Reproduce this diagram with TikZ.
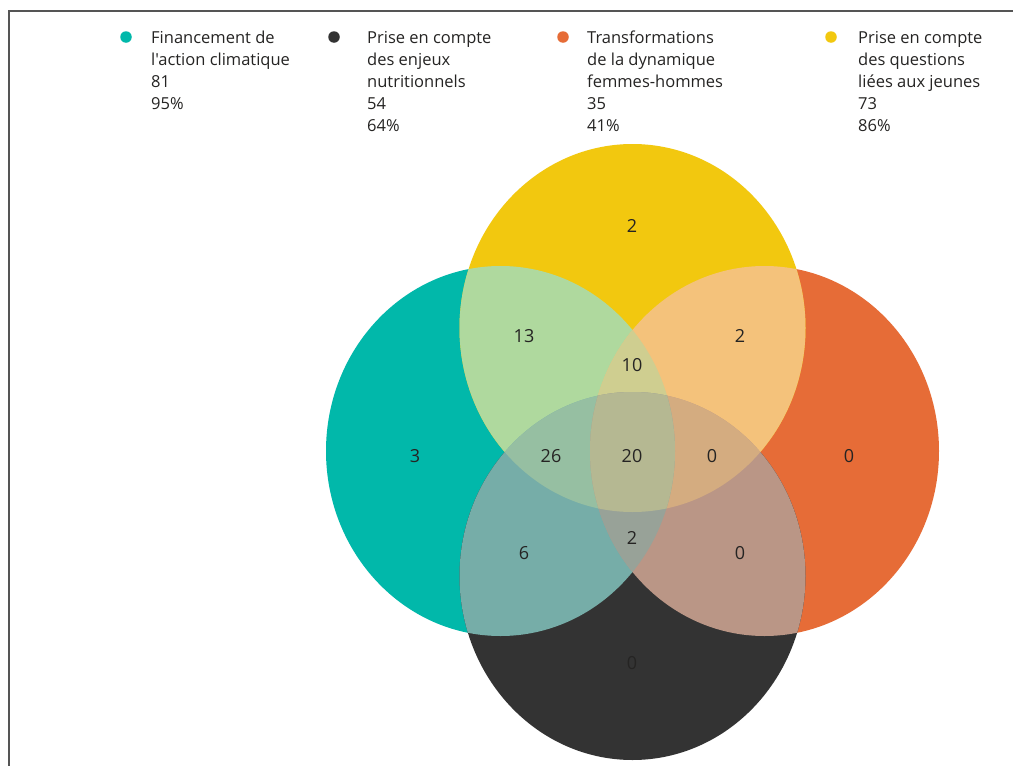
\documentclass[tikz,border=0pt]{standalone}
\usepackage{fontspec}
\setmainfont{Open Sans}[Ligatures=TeXOff]
\usetikzlibrary{positioning}
\definecolor{VTeal}{RGB}{1,184,170}
\definecolor{VBlack}{RGB}{51,51,51}
\definecolor{VOrange}{RGB}{230,108,55}
\definecolor{VYellow}{RGB}{242,200,15}
\definecolor{PairTY}{RGB}{175,217,158}
\definecolor{PairYO}{RGB}{244,194,123}
\definecolor{PairTB}{RGB}{118,173,168}
\definecolor{PairOB}{RGB}{186,150,134}
\definecolor{TripTYO}{RGB}{207,206,144}
\definecolor{TripTYB}{RGB}{150,191,162}
\definecolor{TripYOB}{RGB}{212,172,128}
\definecolor{TripTOB}{RGB}{152,162,152}
\definecolor{QuadAll}{RGB}{181,184,146}
\definecolor{LabelInk}{RGB}{37,36,35}
\definecolor{FrameGray}{RGB}{85,85,85}
\newcommand{\vennT}{(500.5,451) ellipse [x radius=174.5pt, y radius=185pt]}
\newcommand{\vennO}{(764.5,451) ellipse [x radius=174.5pt, y radius=185pt]}
\newcommand{\vennY}{(632.5,328) ellipse [x radius=173pt, y radius=184pt]}
\newcommand{\vennB}{(632.5,576) ellipse [x radius=173pt, y radius=184pt]}

\begin{document}
\begin{tikzpicture}[
  x=1pt, y=-1pt,
  legdot/.style={circle, inner sep=0pt, minimum size=11.5pt},
  legtext/.style={anchor=north west, inner sep=0pt, align=left, text=LabelInk, font=\fontsize{16.5}{22}\selectfont},
  count/.style={text=LabelInk, font=\fontsize{18}{20}\selectfont}
]
\useasboundingbox (0,0) rectangle (1013,766);
\fill[white] (0,0) rectangle (1013,766);
\draw[line width=2pt, FrameGray] (9,767) |- (1014,10.5);

\fill[VTeal] \vennT;
\fill[VOrange] \vennO;
\fill[VYellow] \vennY;
\fill[VBlack] \vennB;

\begin{scope} \clip \vennT; \fill[PairTY] \vennY; \end{scope}
\begin{scope} \clip \vennY; \fill[PairYO] \vennO; \end{scope}
\begin{scope} \clip \vennT; \fill[PairTB] \vennB; \end{scope}
\begin{scope} \clip \vennO; \fill[PairOB] \vennB; \end{scope}

\begin{scope} \clip \vennT; \clip \vennY; \fill[TripTYO] \vennO; \end{scope}
\begin{scope} \clip \vennT; \clip \vennY; \fill[TripTYB] \vennB; \end{scope}
\begin{scope} \clip \vennY; \clip \vennO; \fill[TripYOB] \vennB; \end{scope}
\begin{scope} \clip \vennT; \clip \vennO; \fill[TripTOB] \vennB; \end{scope}
\begin{scope} \clip \vennT; \clip \vennY; \clip \vennO; \fill[QuadAll] \vennB; \end{scope}

\node[count] (yonly) at (632,226) {2};
\node[count] (ty) at (524,336) {13};
\node[count] (yo) at (740,336) {2};
\node[count] (tyo) at (632,365) {10};
\node[count] (tonly) at (415,456) {3};
\node[count] (tyb) at (551,456) {26};
\node[count] (all) at (632,456) {20};
\node[count] (yob) at (712,456) {0};
\node[count] (oonly) at (849,456) {0};
\node[count] (tb) at (524,553) {6};
\node[count] (tob) at (632,538) {2};
\node[count] (ob) at (740,553) {0};
\node[count] (bonly) at (632,663) {0};

\node[legdot, fill=VTeal] (dotT) at (126,37) {};
\node[legdot, fill=VBlack] (dotB) at (334,37) {};
\node[legdot, fill=VOrange] (dotO) at (563,37) {};
\node[legdot, fill=VYellow] (dotY) at (831,37) {};

\node[legtext] (legT) at (151,31) {Financement de\\l'action climatique\\81\\95\%};
\node[legtext] (legB) at (367,31) {Prise en compte\\des enjeux\\nutritionnels\\54\\64\%};
\node[legtext] (legO) at (587,31) {Transformations\\de la dynamique\\femmes-hommes\\35\\41\%};
\node[legtext] (legY) at (858,31) {Prise en compte\\des questions\\liées aux jeunes\\73\\86\%};
\end{tikzpicture}
\end{document}
